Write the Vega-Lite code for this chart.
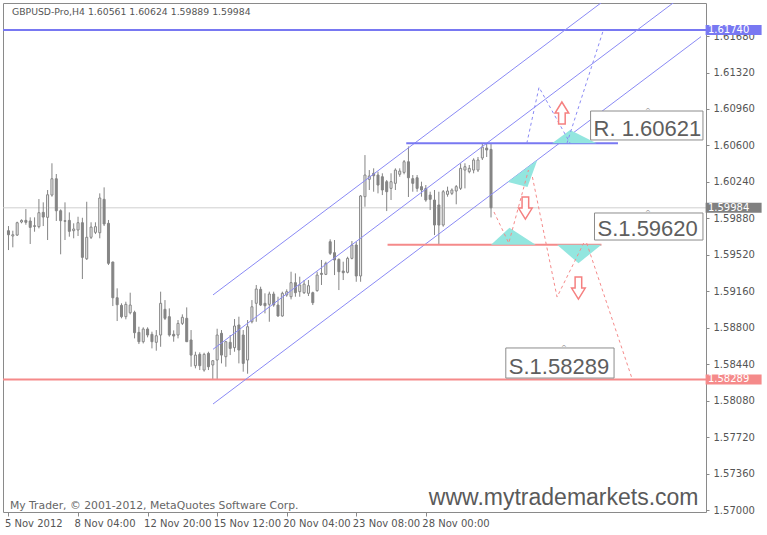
{
  "$schema": "https://vega.github.io/schema/vega-lite/v6.json",
  "width": 703,
  "height": 509,
  "autosize": {"type": "none"},
  "padding": {"left": 3, "top": 3, "right": 61, "bottom": 23},
  "background": "white",
  "config": {
    "view": {"stroke": "#8a8a8a", "strokeWidth": 1},
    "axis": {"labelFont": "DejaVu Sans", "labelFontSize": 10, "labelColor": "#555555", "tickColor": "#8a8a8a", "grid": false, "domain": false}
  },
  "resolve": {"axis": {"x": "independent", "y": "independent"}},
  "datasets": {
    "candles": [
      {"i":0,"o":1.59758,"h":1.59804,"l":1.59567,"c":1.59718},
      {"i":1,"o":1.59706,"h":1.59758,"l":1.59594,"c":1.59718},
      {"i":2,"o":1.59715,"h":1.59847,"l":1.59706,"c":1.59837},
      {"i":3,"o":1.59844,"h":1.59870,"l":1.59831,"c":1.59860},
      {"i":4,"o":1.59860,"h":1.59972,"l":1.59817,"c":1.59841},
      {"i":5,"o":1.59854,"h":1.59890,"l":1.59627,"c":1.59791},
      {"i":6,"o":1.59807,"h":1.59890,"l":1.59748,"c":1.59801},
      {"i":7,"o":1.59798,"h":1.60071,"l":1.59781,"c":1.59936},
      {"i":8,"o":1.59939,"h":1.60038,"l":1.59804,"c":1.59893},
      {"i":9,"o":1.59890,"h":1.60160,"l":1.59666,"c":1.60113},
      {"i":10,"o":1.60110,"h":1.60424,"l":1.60094,"c":1.60271},
      {"i":11,"o":1.60271,"h":1.60318,"l":1.59854,"c":1.59955},
      {"i":12,"o":1.59955,"h":1.59969,"l":1.59525,"c":1.59857},
      {"i":13,"o":1.59857,"h":1.60038,"l":1.59666,"c":1.59851},
      {"i":14,"o":1.59860,"h":1.59939,"l":1.59699,"c":1.59752},
      {"i":15,"o":1.59758,"h":1.59831,"l":1.59683,"c":1.59775},
      {"i":16,"o":1.59765,"h":1.59896,"l":1.59706,"c":1.59837},
      {"i":17,"o":1.59837,"h":1.59886,"l":1.59281,"c":1.59495},
      {"i":18,"o":1.59481,"h":1.60044,"l":1.59469,"c":1.59693},
      {"i":19,"o":1.59693,"h":1.59841,"l":1.59676,"c":1.59794},
      {"i":20,"o":1.59742,"h":1.59841,"l":1.59725,"c":1.59798},
      {"i":21,"o":1.59738,"h":1.60127,"l":1.59683,"c":1.60081},
      {"i":22,"o":1.60068,"h":1.60186,"l":1.59804,"c":1.59824},
      {"i":23,"o":1.59831,"h":1.59864,"l":1.59419,"c":1.59436},
      {"i":24,"o":1.59449,"h":1.59452,"l":1.59014,"c":1.59096},
      {"i":25,"o":1.59096,"h":1.59189,"l":1.58866,"c":1.59027},
      {"i":26,"o":1.59021,"h":1.59041,"l":1.58893,"c":1.58909},
      {"i":27,"o":1.58909,"h":1.59057,"l":1.58883,"c":1.59031},
      {"i":28,"o":1.58948,"h":1.59146,"l":1.58932,"c":1.59024},
      {"i":29,"o":1.58952,"h":1.58968,"l":1.58695,"c":1.58751},
      {"i":30,"o":1.58754,"h":1.58810,"l":1.58639,"c":1.58662},
      {"i":31,"o":1.58662,"h":1.58804,"l":1.58645,"c":1.58787},
      {"i":32,"o":1.58787,"h":1.58804,"l":1.58705,"c":1.58728},
      {"i":33,"o":1.58735,"h":1.58761,"l":1.58596,"c":1.58662},
      {"i":34,"o":1.58656,"h":1.58777,"l":1.58573,"c":1.58721},
      {"i":35,"o":1.58728,"h":1.59156,"l":1.58612,"c":1.59041},
      {"i":36,"o":1.58982,"h":1.59073,"l":1.58876,"c":1.58893},
      {"i":37,"o":1.58909,"h":1.58991,"l":1.58712,"c":1.58728},
      {"i":38,"o":1.58735,"h":1.58774,"l":1.58662,"c":1.58718},
      {"i":39,"o":1.58728,"h":1.58876,"l":1.58695,"c":1.58843},
      {"i":40,"o":1.58843,"h":1.58932,"l":1.58827,"c":1.58903},
      {"i":41,"o":1.58893,"h":1.59001,"l":1.58662,"c":1.58662},
      {"i":42,"o":1.58679,"h":1.58777,"l":1.58415,"c":1.58530},
      {"i":43,"o":1.58425,"h":1.58563,"l":1.58399,"c":1.58530},
      {"i":44,"o":1.58537,"h":1.58557,"l":1.58382,"c":1.58425},
      {"i":45,"o":1.58382,"h":1.58553,"l":1.58366,"c":1.58537},
      {"i":46,"o":1.58547,"h":1.58563,"l":1.58382,"c":1.58415},
      {"i":47,"o":1.58432,"h":1.58481,"l":1.58289,"c":1.58474},
      {"i":48,"o":1.58481,"h":1.58790,"l":1.58291,"c":1.58728},
      {"i":49,"o":1.58745,"h":1.58777,"l":1.58448,"c":1.58530},
      {"i":50,"o":1.58514,"h":1.58669,"l":1.58415,"c":1.58662},
      {"i":51,"o":1.58656,"h":1.58728,"l":1.58530,"c":1.58596},
      {"i":52,"o":1.58603,"h":1.58886,"l":1.58563,"c":1.58817},
      {"i":53,"o":1.58827,"h":1.58909,"l":1.58448,"c":1.58580},
      {"i":54,"o":1.58728,"h":1.58777,"l":1.58366,"c":1.58448},
      {"i":55,"o":1.58481,"h":1.58876,"l":1.58346,"c":1.58810},
      {"i":56,"o":1.58859,"h":1.59073,"l":1.58843,"c":1.59007},
      {"i":57,"o":1.59041,"h":1.59222,"l":1.58859,"c":1.59182},
      {"i":58,"o":1.59179,"h":1.59205,"l":1.59014,"c":1.59024},
      {"i":59,"o":1.59041,"h":1.59140,"l":1.58942,"c":1.59017},
      {"i":60,"o":1.59031,"h":1.59156,"l":1.58859,"c":1.59133},
      {"i":61,"o":1.59133,"h":1.59156,"l":1.59007,"c":1.59024},
      {"i":62,"o":1.59024,"h":1.59106,"l":1.58909,"c":1.58916},
      {"i":63,"o":1.58916,"h":1.59156,"l":1.58909,"c":1.59140},
      {"i":64,"o":1.59123,"h":1.59179,"l":1.59106,"c":1.59156},
      {"i":65,"o":1.59106,"h":1.59353,"l":1.59080,"c":1.59245},
      {"i":66,"o":1.59245,"h":1.59337,"l":1.59106,"c":1.59146},
      {"i":67,"o":1.59156,"h":1.59304,"l":1.59106,"c":1.59222},
      {"i":68,"o":1.59146,"h":1.59271,"l":1.59133,"c":1.59231},
      {"i":69,"o":1.59140,"h":1.59271,"l":1.59113,"c":1.59215},
      {"i":70,"o":1.59146,"h":1.59156,"l":1.59024,"c":1.59047},
      {"i":71,"o":1.59166,"h":1.59353,"l":1.59156,"c":1.59320},
      {"i":72,"o":1.59337,"h":1.59469,"l":1.59222,"c":1.59327},
      {"i":73,"o":1.59327,"h":1.59452,"l":1.59320,"c":1.59436},
      {"i":74,"o":1.59649,"h":1.59673,"l":1.59518,"c":1.59535},
      {"i":75,"o":1.59541,"h":1.59666,"l":1.59320,"c":1.59469},
      {"i":76,"o":1.59475,"h":1.59485,"l":1.59172,"c":1.59353},
      {"i":77,"o":1.59360,"h":1.59452,"l":1.59271,"c":1.59343},
      {"i":78,"o":1.59347,"h":1.59501,"l":1.59337,"c":1.59485},
      {"i":79,"o":1.59485,"h":1.59656,"l":1.59475,"c":1.59617},
      {"i":80,"o":1.59617,"h":1.59649,"l":1.59254,"c":1.59311},
      {"i":81,"o":1.59311,"h":1.60110,"l":1.59254,"c":1.60101},
      {"i":82,"o":1.60094,"h":1.60505,"l":1.59995,"c":1.60308},
      {"i":83,"o":1.60265,"h":1.60357,"l":1.60160,"c":1.60298},
      {"i":84,"o":1.60325,"h":1.60374,"l":1.60143,"c":1.60301},
      {"i":85,"o":1.60308,"h":1.60341,"l":1.60127,"c":1.60209},
      {"i":86,"o":1.60291,"h":1.60325,"l":1.60110,"c":1.60160},
      {"i":87,"o":1.60242,"h":1.60259,"l":1.59952,"c":1.60143},
      {"i":88,"o":1.60176,"h":1.60325,"l":1.60061,"c":1.60242},
      {"i":89,"o":1.60226,"h":1.60374,"l":1.60160,"c":1.60357},
      {"i":90,"o":1.60315,"h":1.60374,"l":1.60291,"c":1.60347},
      {"i":91,"o":1.60334,"h":1.60456,"l":1.60315,"c":1.60439},
      {"i":92,"o":1.60439,"h":1.60590,"l":1.60091,"c":1.60281},
      {"i":93,"o":1.60272,"h":1.60308,"l":1.60143,"c":1.60226},
      {"i":94,"o":1.60281,"h":1.60308,"l":1.60143,"c":1.60176},
      {"i":95,"o":1.60193,"h":1.60242,"l":1.60094,"c":1.60160},
      {"i":96,"o":1.60176,"h":1.60209,"l":1.60044,"c":1.60061},
      {"i":97,"o":1.60110,"h":1.60143,"l":1.59962,"c":1.60068},
      {"i":98,"o":1.60061,"h":1.60160,"l":1.59715,"c":1.59814},
      {"i":99,"o":1.60012,"h":1.60143,"l":1.59620,"c":1.59814},
      {"i":100,"o":1.59814,"h":1.60160,"l":1.59798,"c":1.60143},
      {"i":101,"o":1.60117,"h":1.60193,"l":1.60094,"c":1.60150},
      {"i":102,"o":1.60127,"h":1.60176,"l":1.60110,"c":1.60160},
      {"i":103,"o":1.60150,"h":1.60209,"l":1.60019,"c":1.60193},
      {"i":104,"o":1.60176,"h":1.60424,"l":1.60160,"c":1.60374},
      {"i":105,"o":1.60357,"h":1.60424,"l":1.60176,"c":1.60390},
      {"i":106,"o":1.60341,"h":1.60407,"l":1.60325,"c":1.60374},
      {"i":107,"o":1.60357,"h":1.60473,"l":1.60325,"c":1.60456},
      {"i":108,"o":1.60357,"h":1.60486,"l":1.60338,"c":1.60456},
      {"i":109,"o":1.60476,"h":1.60614,"l":1.60456,"c":1.60584},
      {"i":110,"o":1.60574,"h":1.60624,"l":1.60486,"c":1.60555},
      {"i":111,"o":1.60561,"h":1.60624,"l":1.59889,"c":1.59984}
    ],
    "levels": [
      {"name": "target", "p": 1.6174},
      {"name": "bid", "p": 1.59984},
      {"name": "floor", "p": 1.58289}
    ],
    "segments": [
      {"name": "resistance", "i": 91.5, "i2": 140.2, "p": 1.60621},
      {"name": "support", "i": 87.2, "i2": 136.4, "p": 1.5962}
    ],
    "channel": [
      {"line": "upper", "i": 47.05, "p": 1.59124},
      {"line": "upper", "i": 140, "p": 1.62127},
      {"line": "middle", "i": 47.05, "p": 1.58587},
      {"line": "middle", "i": 159.3, "p": 1.62214},
      {"line": "lower", "i": 47.05, "p": 1.58047},
      {"line": "lower", "i": 159.3, "p": 1.61674}
    ],
    "paths": [
      {"path": "b1", "k": 0, "side": "up", "i": 119.23, "p": 1.60621},
      {"path": "b1", "k": 1, "side": "up", "i": 122.04, "p": 1.61174},
      {"path": "b1", "k": 2, "side": "up", "i": 129.21, "p": 1.60621},
      {"path": "b2", "k": 0, "side": "up", "i": 128.46, "p": 1.60621},
      {"path": "b2", "k": 1, "side": "up", "i": 136.85, "p": 1.6174},
      {"path": "r1", "k": 0, "side": "down", "i": 111.68, "p": 1.59943},
      {"path": "r1", "k": 1, "side": "down", "i": 115.08, "p": 1.59636},
      {"path": "r1", "k": 2, "side": "down", "i": 119.61, "p": 1.60357},
      {"path": "r2", "k": 0, "side": "down", "i": 120.52, "p": 1.60288},
      {"path": "r2", "k": 1, "side": "down", "i": 126.19, "p": 1.59103},
      {"path": "r2", "k": 2, "side": "down", "i": 132.31, "p": 1.59636},
      {"path": "r3", "k": 0, "side": "down", "i": 133.0, "p": 1.59636},
      {"path": "r3", "k": 1, "side": "down", "i": 143.4, "p": 1.58303}
    ],
    "zones": [
      {"zone": "z1", "i": 125.06, "p": 1.60621, "p2": 1.60621},
      {"zone": "z1", "i": 129.2, "p": 1.60752, "p2": 1.60621},
      {"zone": "z1", "i": 135.26, "p": 1.60621, "p2": 1.60621},
      {"zone": "z2", "i": 114.85, "p": 1.60239, "p2": 1.60239},
      {"zone": "z2", "i": 119.39, "p": 1.60384, "p2": 1.60189},
      {"zone": "z2", "i": 121.66, "p": 1.60456, "p2": 1.60456},
      {"zone": "z3", "i": 111.0, "p": 1.5962, "p2": 1.5962},
      {"zone": "z3", "i": 115.24, "p": 1.59788, "p2": 1.5962},
      {"zone": "z3", "i": 121.27, "p": 1.5962, "p2": 1.5962},
      {"zone": "z4", "i": 126.19, "p": 1.5962, "p2": 1.5962},
      {"zone": "z4", "i": 131.11, "p": 1.59436, "p2": 1.5962},
      {"zone": "z4", "i": 136.39, "p": 1.5962, "p2": 1.5962}
    ],
    "arrows": [
      {"dir": "up", "i": 127.3, "p": 1.6092},
      {"dir": "down", "i": 118.9, "p": 1.59982},
      {"dir": "down", "i": 131.1, "p": 1.59192}
    ],
    "boxes": [
      {"label": "R. 1.60621", "i": 133.9, "i2": 159.75, "p": 1.6094, "p2": 1.60654, "anchor": 147.1},
      {"label": "S.1.59620", "i": 134.8, "i2": 159.75, "p": 1.59933, "p2": 1.59666, "anchor": 147.1},
      {"label": "S.1.58289", "i": 114.4, "i2": 139.3, "p": 1.586, "p2": 1.58303, "anchor": 127.8}
    ]
  },
  "layer": [
    {
      "data": {"name": "levels"},
      "transform": [{"filter": "datum.name == 'bid'"}],
      "mark": {"type": "rule", "color": "#cfcfcf", "strokeWidth": 1},
      "encoding": {
        "y": {"field": "p", "type": "quantitative", "scale": {"domain": [1.569804, 1.620066], "zero": false, "nice": false},
          "axis": {"orient": "right", "title": null, "format": ".5f", "tickSize": 3, "labelPadding": 4, "labelFlush": false, "labelOverlap": false,
            "values": [1.57, 1.5736, 1.5772, 1.5808, 1.5844, 1.588, 1.5916, 1.5952, 1.5988, 1.6024, 1.606, 1.6096, 1.6132, 1.6168]}}
      }
    },
    {
      "data": {"name": "candles"},
      "mark": {"type": "rule", "color": "#858585", "strokeWidth": 1},
      "encoding": {
        "x": {"field": "i", "type": "quantitative", "scale": {"domain": [-0.11, 159.3], "zero": false, "nice": false},
          "axis": {"orient": "bottom", "title": null, "values": [0, 16, 32, 48, 64, 80, 96], "tickSize": 4, "labelAlign": "left", "labelBaseline": "top", "labelPadding": 2, "labelOffset": -4, "labelFlush": false, "labelOverlap": false,
            "labelExpr": "['5 Nov 2012','8 Nov 04:00','12 Nov 20:00','15 Nov 12:00','20 Nov 04:00','23 Nov 08:00','28 Nov 00:00'][round(datum.value / 16)]"}},
        "y": {"field": "l", "type": "quantitative", "axis": null},
        "y2": {"field": "h"}
      }
    },
    {
      "data": {"name": "candles"},
      "mark": {"type": "bar", "width": 2, "stroke": "#858585", "strokeWidth": 1},
      "encoding": {
        "x": {"field": "i", "type": "quantitative", "axis": null},
        "y": {"field": "o", "type": "quantitative", "axis": null},
        "y2": {"field": "c"},
        "fill": {"condition": {"test": "datum.c >= datum.o", "value": "#f2f2f2"}, "value": "#858585"}
      }
    },
    {
      "data": {"name": "levels"},
      "transform": [{"filter": "datum.name == 'target'"}],
      "mark": {"type": "rule", "color": "#7878f2", "strokeWidth": 2},
      "encoding": {"y": {"field": "p", "type": "quantitative", "axis": null}}
    },
    {
      "data": {"name": "levels"},
      "transform": [{"filter": "datum.name == 'floor'"}],
      "mark": {"type": "rule", "color": "#f58a8a", "strokeWidth": 2},
      "encoding": {"y": {"field": "p", "type": "quantitative", "axis": null}}
    },
    {
      "data": {"name": "channel"},
      "mark": {"type": "line", "color": "#8a8af5", "strokeWidth": 1, "clip": true},
      "encoding": {
        "x": {"field": "i", "type": "quantitative", "axis": null},
        "y": {"field": "p", "type": "quantitative", "axis": null},
        "detail": {"field": "line"}
      }
    },
    {
      "data": {"name": "segments"},
      "transform": [{"filter": "datum.name == 'resistance'"}],
      "mark": {"type": "rule", "color": "#7878f2", "strokeWidth": 2},
      "encoding": {
        "x": {"field": "i", "type": "quantitative", "axis": null},
        "x2": {"field": "i2"},
        "y": {"field": "p", "type": "quantitative", "axis": null}
      }
    },
    {
      "data": {"name": "segments"},
      "transform": [{"filter": "datum.name == 'support'"}],
      "mark": {"type": "rule", "color": "#f58a8a", "strokeWidth": 2},
      "encoding": {
        "x": {"field": "i", "type": "quantitative", "axis": null},
        "x2": {"field": "i2"},
        "y": {"field": "p", "type": "quantitative", "axis": null}
      }
    },
    {
      "data": {"name": "zones"},
      "mark": {"type": "area", "color": "#93e6df", "opacity": 1},
      "encoding": {
        "x": {"field": "i", "type": "quantitative", "axis": null},
        "y": {"field": "p", "type": "quantitative", "axis": null},
        "y2": {"field": "p2"},
        "detail": {"field": "zone"}
      }
    },
    {
      "data": {"name": "paths"},
      "transform": [{"filter": "datum.side == 'up'"}],
      "mark": {"type": "line", "color": "#8a8af5", "strokeWidth": 1, "strokeDash": [3, 3], "clip": true},
      "encoding": {
        "x": {"field": "i", "type": "quantitative", "axis": null},
        "y": {"field": "p", "type": "quantitative", "axis": null},
        "detail": {"field": "path"},
        "order": {"field": "k"}
      }
    },
    {
      "data": {"name": "paths"},
      "transform": [{"filter": "datum.side == 'down'"}],
      "mark": {"type": "line", "color": "#f58a8a", "strokeWidth": 1, "strokeDash": [3, 3], "clip": true},
      "encoding": {
        "x": {"field": "i", "type": "quantitative", "axis": null},
        "y": {"field": "p", "type": "quantitative", "axis": null},
        "detail": {"field": "path"},
        "order": {"field": "k"}
      }
    },
    {
      "data": {"name": "arrows"},
      "transform": [{"filter": "datum.dir == 'up'"}],
      "mark": {"type": "point", "filled": true, "fill": "#ffffff", "stroke": "#f58080", "strokeWidth": 1.5, "opacity": 1, "size": 484,
        "shape": "M-0.3,1L0.3,1L0.3,0L0.62,0L0,-1L-0.62,0L-0.3,0Z"},
      "encoding": {
        "x": {"field": "i", "type": "quantitative", "axis": null},
        "y": {"field": "p", "type": "quantitative", "axis": null}
      }
    },
    {
      "data": {"name": "arrows"},
      "transform": [{"filter": "datum.dir == 'down'"}],
      "mark": {"type": "point", "filled": true, "fill": "#ffffff", "stroke": "#f58080", "strokeWidth": 1.5, "opacity": 1, "size": 484,
        "shape": "M-0.3,-1L0.3,-1L0.3,0L0.62,0L0,1L-0.62,0L-0.3,0Z"},
      "encoding": {
        "x": {"field": "i", "type": "quantitative", "axis": null},
        "y": {"field": "p", "type": "quantitative", "axis": null}
      }
    },
    {
      "data": {"name": "boxes"},
      "mark": {"type": "rect", "fill": "#ffffff", "stroke": "#8c8c8c", "strokeWidth": 1},
      "encoding": {
        "x": {"field": "i", "type": "quantitative", "axis": null},
        "x2": {"field": "i2"},
        "y": {"field": "p", "type": "quantitative", "axis": null},
        "y2": {"field": "p2"}
      }
    },
    {
      "data": {"name": "boxes"},
      "mark": {"type": "text", "font": "DejaVu Sans", "fontSize": 7, "color": "#8c8c8c", "align": "center", "baseline": "bottom", "dy": 3},
      "encoding": {
        "x": {"field": "anchor", "type": "quantitative", "axis": null},
        "y": {"field": "p", "type": "quantitative", "axis": null},
        "text": {"value": "^"}
      }
    },
    {
      "data": {"name": "boxes"},
      "mark": {"type": "text", "font": "Liberation Sans", "fontSize": 22, "color": "#5e5e5e", "align": "left", "baseline": "alphabetic", "dx": 3, "dy": -4},
      "encoding": {
        "x": {"field": "i", "type": "quantitative", "axis": null},
        "y": {"field": "p2", "type": "quantitative", "axis": null},
        "text": {"field": "label"}
      }
    },
    {
      "data": {"name": "levels"},
      "mark": {"type": "point", "filled": true, "opacity": 1, "strokeWidth": 0, "size": 3136, "shape": "M-1,-0.18L1,-0.18L1,0.18L-1,0.18Z"},
      "encoding": {
        "x": {"datum": 166.8, "type": "quantitative", "axis": null},
        "y": {"field": "p", "type": "quantitative", "axis": null},
        "color": {"field": "name", "type": "nominal", "legend": null,
          "scale": {"domain": ["target", "bid", "floor"], "range": ["#7878f2", "#808080", "#f58a8a"]}}
      }
    },
    {
      "data": {"name": "levels"},
      "mark": {"type": "text", "font": "DejaVu Sans", "fontSize": 10, "color": "#ffffff", "align": "left", "baseline": "middle"},
      "encoding": {
        "x": {"datum": 160.9, "type": "quantitative", "axis": null},
        "y": {"field": "p", "type": "quantitative", "axis": null},
        "text": {"field": "p", "type": "quantitative", "format": ".5f"}
      }
    },
    {
      "data": {"values": [{"i": 0.8, "p": 1.61918, "t": "GBPUSD-Pro,H4  1.60561 1.60624 1.59889 1.59984"}]},
      "mark": {"type": "text", "font": "DejaVu Sans", "fontSize": 9.3, "color": "#555555", "align": "left", "baseline": "middle"},
      "encoding": {
        "x": {"field": "i", "type": "quantitative", "axis": null},
        "y": {"field": "p", "type": "quantitative", "axis": null},
        "text": {"field": "t"}
      }
    },
    {
      "data": {"values": [{"i": 0.34, "p": 1.57039, "t": "My Trader, © 2001-2012, MetaQuotes Software Corp."}]},
      "mark": {"type": "text", "font": "DejaVu Sans", "fontSize": 10.8, "color": "#666666", "align": "left", "baseline": "middle"},
      "encoding": {
        "x": {"field": "i", "type": "quantitative", "axis": null},
        "y": {"field": "p", "type": "quantitative", "axis": null},
        "text": {"field": "t"}
      }
    },
    {
      "data": {"values": [{"i": 96.7, "p": 1.57049, "t": "www.mytrademarkets.com"}]},
      "mark": {"type": "text", "font": "Liberation Sans", "fontSize": 23, "color": "#5a5a5a", "align": "left", "baseline": "alphabetic"},
      "encoding": {
        "x": {"field": "i", "type": "quantitative", "axis": null},
        "y": {"field": "p", "type": "quantitative", "axis": null},
        "text": {"field": "t"}
      }
    }
  ]
}
